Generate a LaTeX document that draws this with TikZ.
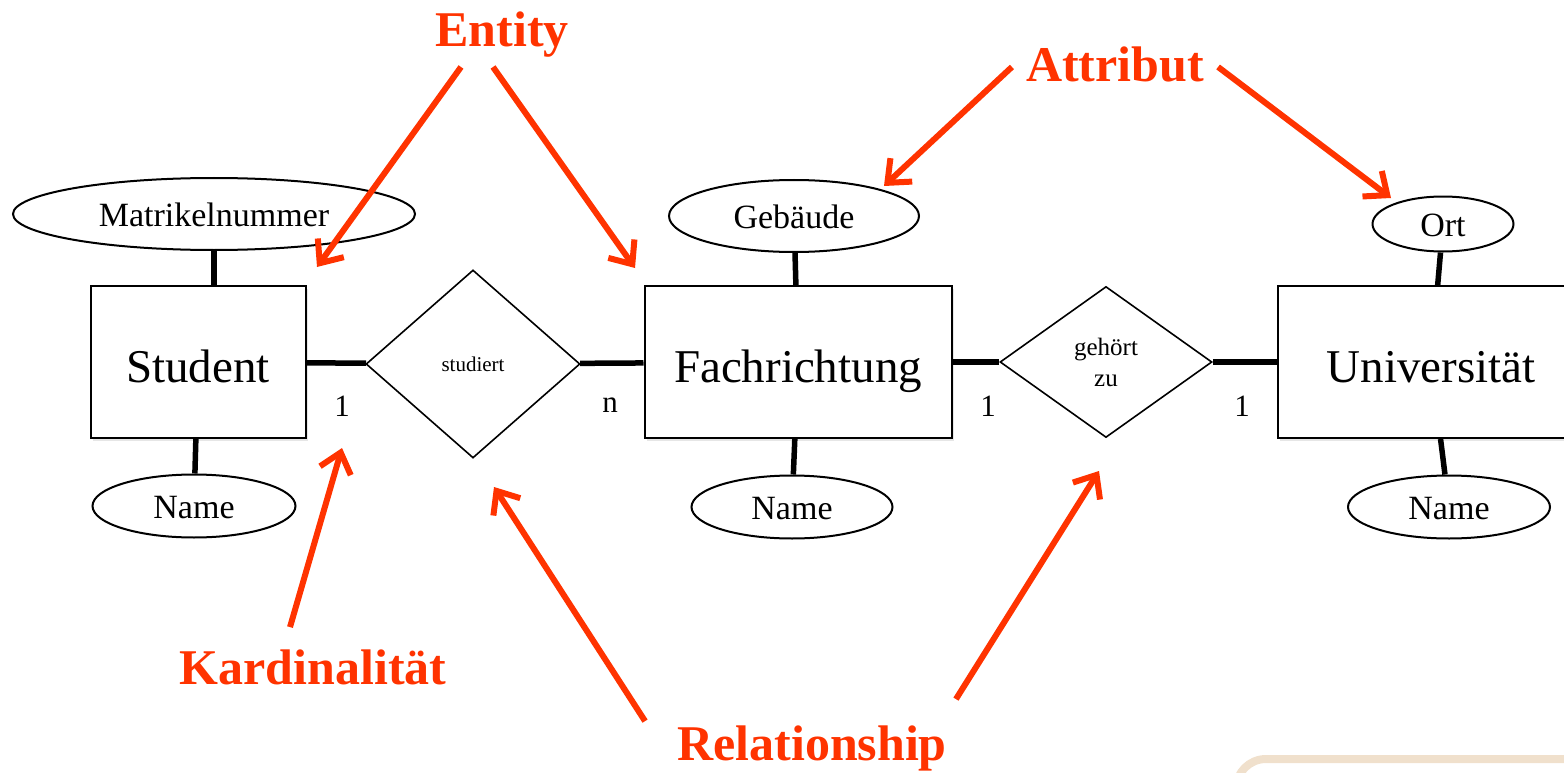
\documentclass[tikz,border=0pt]{standalone}
\usepackage{fontspec}
\setmainfont{Liberation Serif}
\usetikzlibrary{shapes.geometric,arrows.meta,shadows}
\definecolor{hintred}{RGB}{255,51,0}
\definecolor{slidebeige}{RGB}{240,224,204}

\begin{document}
\begin{tikzpicture}[x=1pt,y=-1pt,
  entity/.style={rectangle,draw,line width=2pt,fill=white,minimum width=215pt,minimum height=152pt,inner sep=0pt,
    text height=40pt,text depth=0pt,font=\fontsize{47}{56}\selectfont,drop shadow={shadow xshift=2pt,shadow yshift=-3pt,opacity=.2}},
  relship/.style={diamond,draw,line width=1.6pt,fill=white,inner sep=0pt,align=center},
  attrib/.style={ellipse,draw,line width=2pt,inner sep=0pt,text height=25pt,text depth=0pt,font=\fontsize{34}{40}\selectfont},
  link/.style={line width=5.5pt},
  card/.style={font=\fontsize{31}{36}\selectfont,inner sep=0pt,anchor=base},
  hint/.style={text=hintred,font=\bfseries\fontsize{50}{60}\selectfont,inner sep=0pt,anchor=base},
  pointer/.style={draw=hintred,line width=6pt,-{Straight Barb[length=19pt,width=32pt]}}]
\path[use as bounding box,clip] (0,0) rectangle (1564,773);
\draw[slidebeige,line width=8pt,rounded corners=30pt] (1236,759) rectangle (1700,900);

% entities and relationships
\node[entity] (stud) at (198,362) {Student};
\node[entity,minimum width=307pt] (fach) at (798,362) {Fachrichtung};
\node[entity,minimum width=307pt] (uni) at (1431,362) {Universität};
\node[relship,minimum width=214pt,minimum height=188pt,font=\fontsize{21}{25}\selectfont] (studiert) at (473,364) {studiert};
\node[relship,minimum width=212pt,minimum height=151pt,font=\fontsize{25}{31}\selectfont] (gehoert) at (1106,362) {gehört\\zu};

% attributes
\node[attrib,minimum width=402pt,minimum height=72pt] (mat) at (214,214) {Matrikelnummer};
\node[attrib,minimum width=203pt,minimum height=63pt] (namestud) at (194,506) {Name};
\node[attrib,minimum width=250pt,minimum height=72pt] (geb) at (794,216) {Gebäude};
\node[attrib,minimum width=201pt,minimum height=63pt] (namefach) at (792,507) {Name};
\node[attrib,minimum width=141pt,minimum height=55pt] (ort) at (1443,224) {Ort};
\node[attrib,minimum width=202pt,minimum height=63pt] (nameuni) at (1449,507) {Name};

\draw[link] (mat) -- (mat |- stud.north);
\draw[link] (stud) -- (namestud);
\draw[link] (geb) -- (fach);
\draw[link] (fach) -- (namefach);
\draw[link] (ort) -- (uni);
\draw[link] (uni) -- (nameuni);
\draw[link] (stud) -- (studiert);
\draw[link] (studiert) -- (fach);
\draw[link] (fach) -- (gehoert);
\draw[link] (gehoert) -- (uni);

% cardinalities
\node[card] (c1) at (342,416) {1};
\node[card] (c2) at (610,412) {n};
\node[card] (c3) at (988,416) {1};
\node[card] (c4) at (1242,416) {1};

% red hints
\node[hint] (lentity) at (502,47) {Entity};
\node[hint] (lattr) at (1115,82) {Attribut};
\node[hint] (lcard) at (313,684) {Kardinalität};
\node[hint] (lrel) at (812,760) {Relationship};

\coordinate (ptstud) at (317,267);
\coordinate (ptfach) at (635,268);
\coordinate (ptgeb) at (884,186);
\coordinate (ptort) at (1391,198);
\coordinate (ptcard) at (342,448);
\coordinate (ptrel1) at (494,487);
\coordinate (ptrel2) at (1099,471);

\draw[pointer] ([shift={(-41,9)}]lentity.south) -- (ptstud);
\draw[pointer] ([shift={(-9,9)}]lentity.south) -- (ptfach);
\draw[pointer] ([shift={(-14,2)}]lattr.west) -- (ptgeb);
\draw[pointer] ([shift={(14,2)}]lattr.east) -- (ptort);
\draw[pointer] ([shift={(-23,-22)}]lcard.north) -- (ptcard);
\draw[pointer] ([shift={(-32,-4)}]lrel.north west) -- (ptrel1);
\draw[pointer] ([shift={(9,-26)}]lrel.north east) -- (ptrel2);
\end{tikzpicture}
\end{document}
